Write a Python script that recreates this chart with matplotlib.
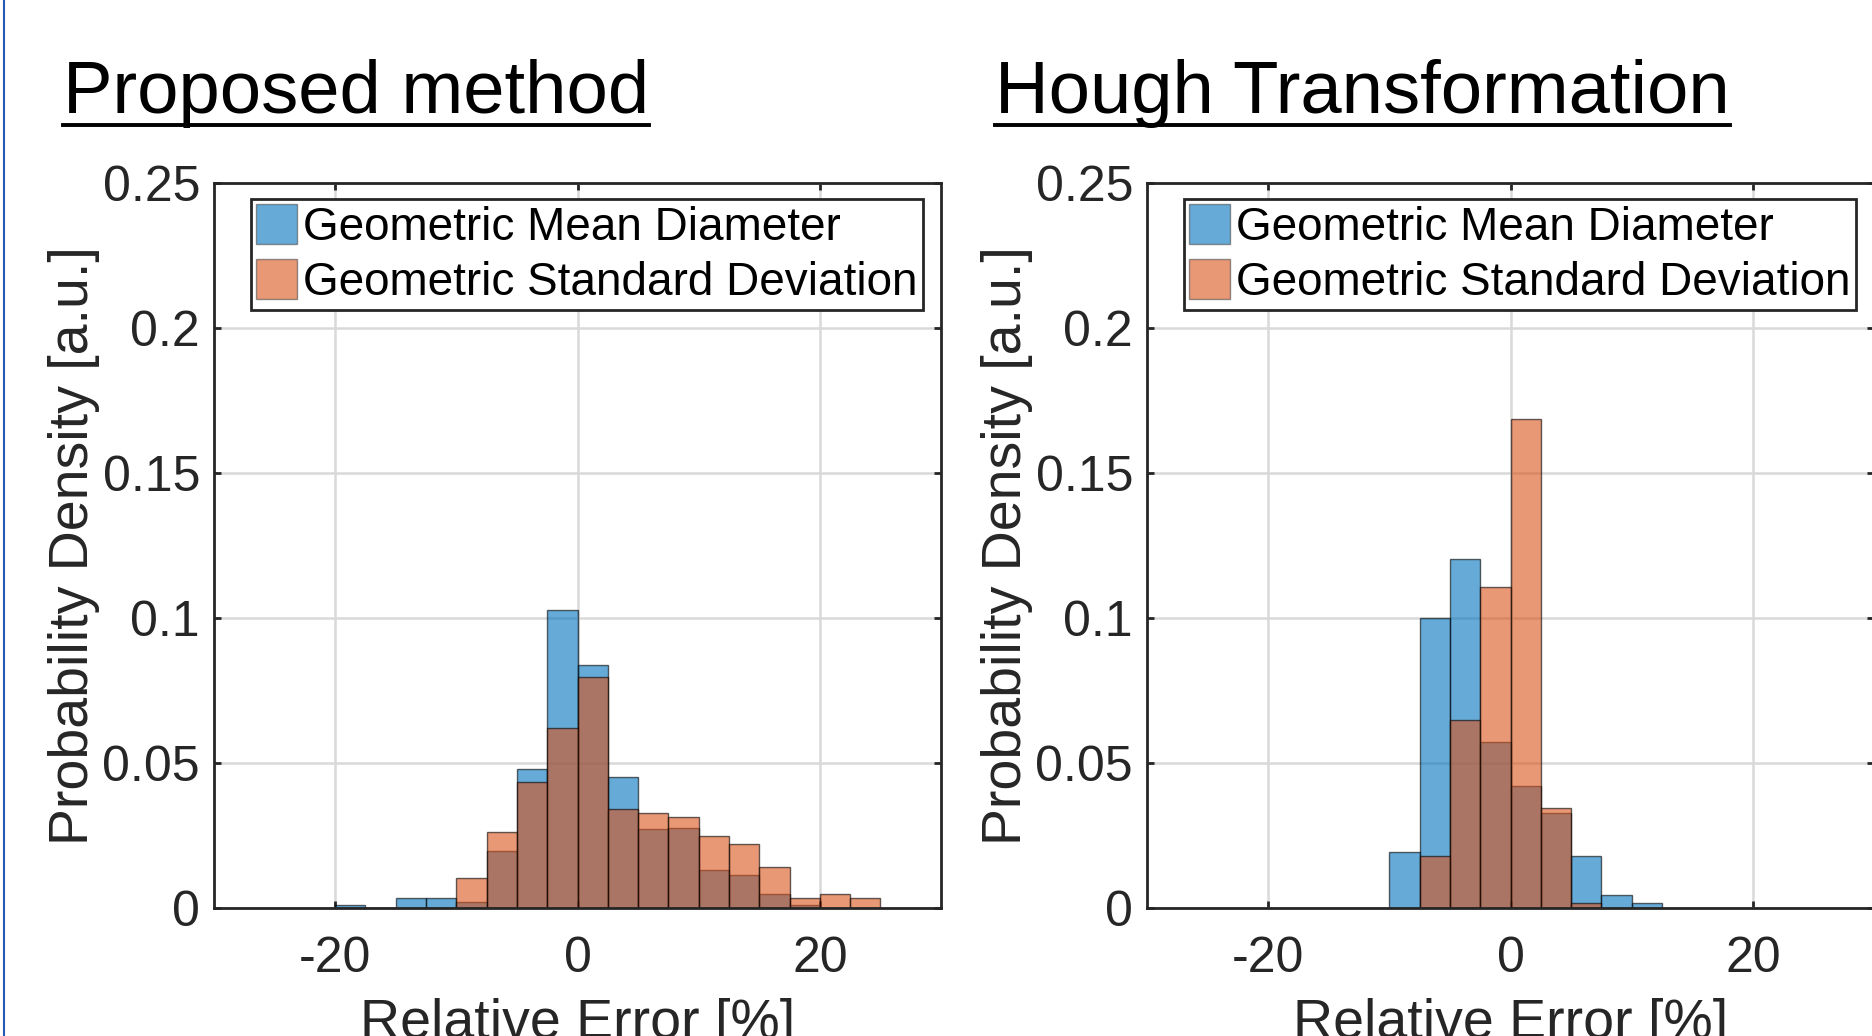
import numpy as np
import matplotlib.pyplot as plt
from matplotlib.lines import Line2D

plt.rcParams['font.family'] = ['Liberation Sans', 'DejaVu Sans']
plt.rcParams['axes.unicode_minus'] = False

# histogram data (bin width 2.5 %)
bin_w = 2.5
prop_gmd_start = -20.0
prop_gmd = [0.001, 0.0, 0.0036, 0.0036, 0.0019, 0.0196, 0.0478, 0.1026,
            0.0838, 0.0451, 0.0274, 0.0275, 0.0130, 0.0115, 0.0047, 0.001]
prop_gsd_start = -10.0
prop_gsd = [0.0102, 0.0261, 0.0436, 0.0622, 0.0797, 0.0342, 0.0329,
            0.0315, 0.0249, 0.0222, 0.0141, 0.0036, 0.0048, 0.0036]

hough_gmd_start = -10.0
hough_gmd = [0.0193, 0.1000, 0.1202, 0.0571, 0.0422, 0.0328, 0.0181, 0.0046, 0.0018]
hough_gsd_start = -7.5
hough_gsd = [0.0181, 0.0650, 0.1107, 0.1685, 0.0344, 0.0018]

titles = ['Proposed method', 'Hough Transformation']
labels = ['Geometric Mean Diameter', 'Geometric Standard Deviation']

blue = (0, 0.447, 0.741)
orange = (0.85, 0.325, 0.098)
dark = (0.15, 0.15, 0.15)

fig = plt.figure(figsize=(18.72, 10.36), dpi=100)

W, H = 1872, 1036
ax_w, ax_h = 727, 725
ax_bottom = H - 908
lefts = [214, 1147]
title_x = [63, 995]

panels = [(prop_gmd_start, prop_gmd, prop_gsd_start, prop_gsd),
          (hough_gmd_start, hough_gmd, hough_gsd_start, hough_gsd)]

renderer = fig.canvas.get_renderer()

for i, (g0, g, s0, s) in enumerate(panels):
    ax = fig.add_axes([lefts[i] / W, ax_bottom / H, ax_w / W, ax_h / H])
    xg = g0 + bin_w * np.arange(len(g))
    xs = s0 + bin_w * np.arange(len(s))
    ax.bar(xg, g, width=bin_w, align='edge', color=blue, alpha=0.6,
           edgecolor='black', linewidth=1.0, label=labels[0], zorder=2)
    ax.bar(xs, s, width=bin_w, align='edge', color=orange, alpha=0.6,
           edgecolor='black', linewidth=1.0, label=labels[1], zorder=3)

    ax.set_xlim(-30, 30)
    ax.set_ylim(0, 0.25)
    ax.set_xticks([-20, 0, 20])
    ax.set_yticks([0, 0.05, 0.1, 0.15, 0.2, 0.25])
    ax.set_yticklabels(['0', '0.05', '0.1', '0.15', '0.2', '0.25'])
    ax.grid(True, color=(0.85, 0.85, 0.85), linewidth=1.8, zorder=0)
    ax.set_axisbelow(True)
    for sp in ax.spines.values():
        sp.set_linewidth(2.0)
        sp.set_color(dark)
        sp.set_zorder(5)
    ax.tick_params(direction='in', length=5, width=2, top=True, right=True,
                   labelsize=36, colors=dark)
    ax.tick_params(axis='x', pad=20)
    ax.tick_params(axis='y', pad=10)
    ax.set_xlabel('Relative Error [%]', fontsize=40, color=dark, labelpad=12)
    ax.set_ylabel('Probability Density [a.u.]', fontsize=40, color=dark, labelpad=2)

    leg = ax.legend(loc='upper right', bbox_to_anchor=(0.975, 0.978),
                    borderaxespad=0, fontsize=33, fancybox=False, framealpha=1,
                    edgecolor=dark, handlelength=0.9, handleheight=0.95,
                    handletextpad=0.12, borderpad=0.12, labelspacing=0.2)
    leg.get_frame().set_linewidth(2.0)
    for h in leg.legend_handles:
        h.set_edgecolor((0.3, 0.3, 0.3))
    leg.set_zorder(10)

    t = fig.text(title_x[i] / W, 1 - 113 / H, titles[i], fontsize=53.5,
                 ha='left', va='baseline', color='black')
    bb = t.get_window_extent(renderer=renderer)
    fig.add_artist(Line2D([bb.x0 / W, bb.x1 / W], [1 - 125 / H, 1 - 125 / H],
                          color='black', linewidth=2.8))

# blue frame edge on the left side of the slide
fig.add_artist(Line2D([4 / W, 4 / W], [0, 1], color=(0.15, 0.35, 0.7), linewidth=1.5))

fig.savefig('out.png', dpi=100)
